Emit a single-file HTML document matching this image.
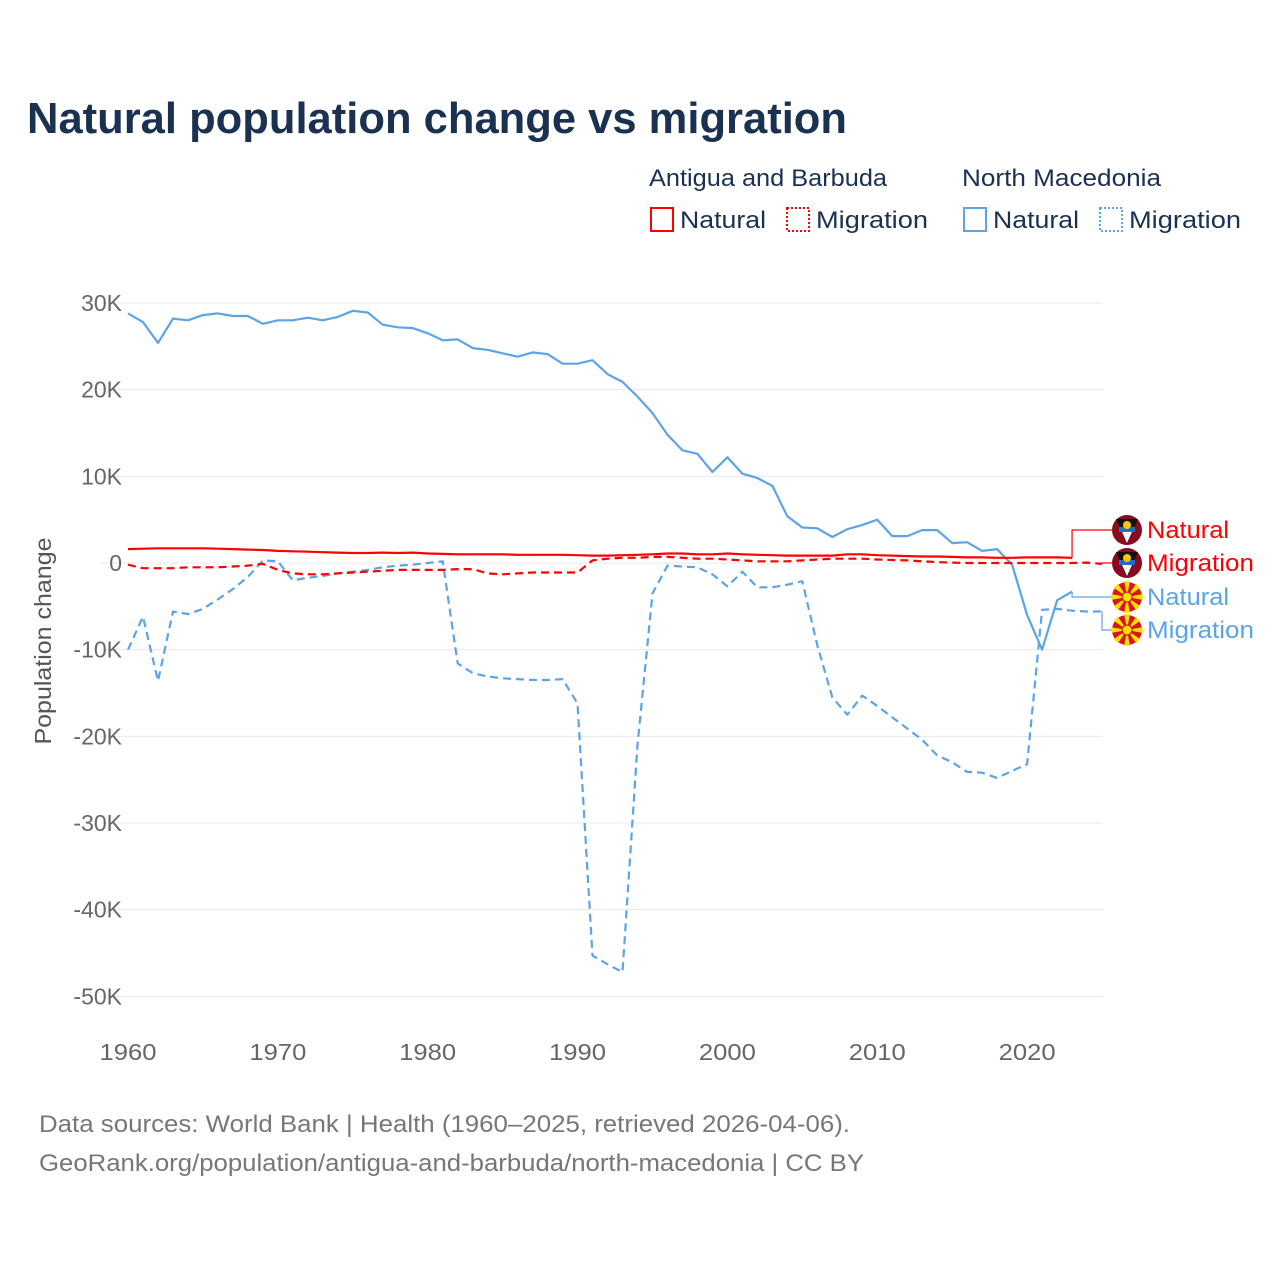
<!DOCTYPE html>
<html><head><meta charset="utf-8"><style>
body{margin:0;background:#fff;}
svg{display:block;font-family:"Liberation Sans",sans-serif;}
</style></head><body>
<svg id="chart" width="1280" height="1280" viewBox="0 0 1280 1280" xmlns="http://www.w3.org/2000/svg">
<rect width="1280" height="1280" fill="#fff"/>
<text x="27" y="133" font-size="44" font-weight="bold" fill="#1b3152" textLength="820" lengthAdjust="spacingAndGlyphs">Natural population change vs migration</text>
<g font-size="24" fill="#1b3152">
<text x="649" y="186" textLength="238" lengthAdjust="spacingAndGlyphs">Antigua and Barbuda</text>
<text x="962" y="186" textLength="199" lengthAdjust="spacingAndGlyphs">North Macedonia</text>
<g><rect x="651" y="208" width="22" height="23" fill="none" stroke="#f00" stroke-width="2"/><text x="680" y="228" textLength="86" lengthAdjust="spacingAndGlyphs">Natural</text></g>
<g><rect x="787" y="208" width="22" height="23" fill="none" stroke="#f00" stroke-width="2" stroke-dasharray="2,2"/><text x="816" y="228" textLength="112" lengthAdjust="spacingAndGlyphs">Migration</text></g>
<g><rect x="964" y="208" width="22" height="23" fill="none" stroke="#5ba4e8" stroke-width="2"/><text x="993" y="228" textLength="86" lengthAdjust="spacingAndGlyphs">Natural</text></g>
<g><rect x="1100" y="208" width="22" height="23" fill="none" stroke="#5ba4e8" stroke-width="2" stroke-dasharray="2,2"/><text x="1129" y="228" textLength="112" lengthAdjust="spacingAndGlyphs">Migration</text></g>
</g>
<g id="grid"></g><g id="series"></g><g id="labels"></g>
<text transform="translate(51,641) rotate(-90)" text-anchor="middle" font-size="23" fill="#555" textLength="207" lengthAdjust="spacingAndGlyphs">Population change</text>
<text x="39" y="1132" font-size="24" fill="#777" textLength="811" lengthAdjust="spacingAndGlyphs">Data sources: World Bank | Health (1960–2025, retrieved 2026-04-06).</text>
<text x="39" y="1171" font-size="24" fill="#777" textLength="825" lengthAdjust="spacingAndGlyphs">GeoRank.org/population/antigua-and-barbuda/north-macedonia | CC BY</text>
</svg>
<script>
const years=[];for(let y=1960;y<=2025;y++)years.push(y);
const yTicks=[30000,20000,10000,0,-10000,-20000,-30000,-40000,-50000];
const yTickLabels=["30K","20K","10K","0","-10K","-20K","-30K","-40K","-50K"];
const xTicks=[1960,1970,1980,1990,2000,2010,2020];
const mkNatural=[28.8,27.8,25.4,28.2,28.0,28.6,28.8,28.5,28.5,27.6,28.0,28.0,28.3,28.0,28.4,29.1,28.9,27.5,27.2,27.1,26.5,25.7,25.8,24.8,24.6,24.2,23.8,24.3,24.1,23.0,23.0,23.4,21.8,20.9,19.2,17.3,14.8,13.0,12.6,10.5,12.2,10.3,9.8,8.9,5.4,4.1,4.0,3.0,3.9,4.4,5.0,3.1,3.1,3.8,3.8,2.3,2.4,1.4,1.6,-0.2,-6.0,-10.0,-4.3,-3.3];
const mkMigration=[-10.0,-6.2,-13.6,-5.6,-5.9,-5.3,-4.2,-3.0,-1.6,0.3,0.2,-2.0,-1.7,-1.5,-1.2,-1.0,-0.8,-0.5,-0.3,-0.2,0.0,0.2,-11.6,-12.7,-13.1,-13.3,-13.4,-13.5,-13.5,-13.4,-16.2,-45.3,-46.3,-47.2,-21.0,-3.5,-0.3,-0.4,-0.5,-1.3,-2.7,-1.0,-2.8,-2.8,-2.5,-2.1,-9.5,-15.5,-17.5,-15.3,-16.5,-17.8,-19.1,-20.4,-22.2,-23.0,-24.1,-24.2,-24.8,-24.0,-23.2,-5.4,-5.3,-5.5,-5.6,-5.6];
const abNatural=[1.6,1.65,1.7,1.7,1.7,1.7,1.65,1.6,1.55,1.5,1.4,1.35,1.3,1.25,1.2,1.15,1.15,1.2,1.15,1.2,1.1,1.05,1.0,1.0,1.0,1.0,0.95,0.95,0.95,0.95,0.9,0.85,0.85,0.9,0.95,1.0,1.1,1.1,1.0,1.0,1.1,1.0,0.95,0.9,0.85,0.85,0.85,0.85,1.0,1.0,0.9,0.85,0.8,0.75,0.75,0.7,0.65,0.65,0.6,0.6,0.65,0.65,0.65,0.6];
const abMigration=[-0.2,-0.6,-0.6,-0.6,-0.5,-0.5,-0.5,-0.4,-0.3,-0.1,-0.8,-1.2,-1.3,-1.3,-1.2,-1.1,-1.0,-0.9,-0.8,-0.8,-0.8,-0.8,-0.7,-0.7,-1.2,-1.3,-1.2,-1.1,-1.1,-1.1,-1.1,0.3,0.5,0.6,0.6,0.7,0.7,0.6,0.5,0.5,0.4,0.3,0.2,0.2,0.2,0.3,0.4,0.5,0.5,0.5,0.4,0.35,0.3,0.2,0.1,0.05,0.0,0.0,0.0,0.0,0.0,0.0,0.0,0.0,0.05,-0.1];
const X=y=>128+(y-1960)*14.985;
const Y=v=>563-v*0.0086667;
const NS="http://www.w3.org/2000/svg";
function mk(tag,attrs,parent){const e=document.createElementNS(NS,tag);for(const k in attrs)e.setAttribute(k,attrs[k]);parent.appendChild(e);return e;}
const grid=document.getElementById('grid');
yTicks.forEach((t,i)=>{
 const l=mk('line',{x1:100,x2:1103,y1:Y(t),y2:Y(t),stroke:'#e8e8e8','stroke-width':1},grid);
 
 
 const tx=mk('text',{x:122,y:Y(t)+8,'text-anchor':'end','font-size':23,fill:'#666'},grid);
 tx.textContent=yTickLabels[i];
 
 
});
xTicks.forEach(t=>{
 const tx=mk('text',{x:X(t),y:1060,'text-anchor':'middle','font-size':23,fill:'#666',textLength:57,lengthAdjust:'spacingAndGlyphs'},grid);
 tx.textContent=t;
 
 
});
const ser=document.getElementById('series');
function line(vals,color,dash,name){
 const pts=vals.map((v,i)=>X(years[i]).toFixed(1)+','+Y(v*1000).toFixed(1)).join(' ');
 const p=mk('polyline',{points:pts,fill:'none',stroke:color,'stroke-width':2.2,'stroke-linejoin':'round'},ser);
 if(dash)p.setAttribute('stroke-dasharray','8,5');
 
 
 return p;
}
line(mkMigration,'#5ba4e8',true,'mk-migration-line');
line(mkNatural,'#5ba4e8',false,'mk-natural-line');
line(abMigration,'#f00',true,'ab-migration-line');
line(abNatural,'#f00',false,'ab-natural-line');
const lab=document.getElementById('labels');
const ends=[
 {v:abNatural,c:'#f00',t:'Natural',w:82,ly:530,flag:'ab',n:'label-ab-natural'},
 {v:abMigration,c:'#f00',t:'Migration',w:107,ly:563,flag:'ab',n:'label-ab-migration'},
 {v:mkNatural,c:'#5ba4e8',t:'Natural',w:82,ly:597,flag:'mk',n:'label-mk-natural'},
 {v:mkMigration,c:'#5ba4e8',t:'Migration',w:107,ly:630,flag:'mk',n:'label-mk-migration'}];
ends.forEach(e=>{
 const g=mk('g',{},lab);
 
 
 const lx=X(years[e.v.length-1]), ly0=Y(e.v[e.v.length-1]*1000);
 mk('polyline',{points:`${lx},${ly0} ${lx},${e.ly} 1112,${e.ly}`,fill:'none',stroke:e.c,'stroke-width':1.2},g);
 const cx=1127,cy=e.ly;
 if(e.flag==='ab'){
  mk('circle',{cx,cy,r:15,fill:'#8a0a1e'},g);
  mk('path',{d:`M${cx-11},${cy-11} L${cx+11},${cy-11} L${cx},${cy+14} Z`,fill:'#111'},g);
  mk('rect',{x:cx-8,y:cy-3,width:16,height:5,fill:'#1f6ec4'},g);
  mk('path',{d:`M${cx-5},${cy+2} L${cx+5},${cy+2} L${cx},${cy+13} Z`,fill:'#fff'},g);
  mk('circle',{cx,cy:cy-5,r:4,fill:'#f8c800'},g);
 }else{
  mk('circle',{cx,cy,r:15,fill:'#d8141e'},g);
  for(let a=0;a<8;a++){const an=a*Math.PI/4;mk('path',{d:`M${cx},${cy} L${cx+16*Math.cos(an-0.18)},${cy+16*Math.sin(an-0.18)} L${cx+16*Math.cos(an+0.18)},${cy+16*Math.sin(an+0.18)} Z`,fill:'#f8e000'},g);}
  mk('circle',{cx,cy,r:5,fill:'#f8e000',stroke:'#d8141e','stroke-width':1.2},g);
 }
 const t=mk('text',{x:1147,y:e.ly+8,'font-size':24,fill:e.c,textLength:e.w,lengthAdjust:'spacingAndGlyphs'},g);
 t.textContent=e.t;
});
</script>
</body></html>
